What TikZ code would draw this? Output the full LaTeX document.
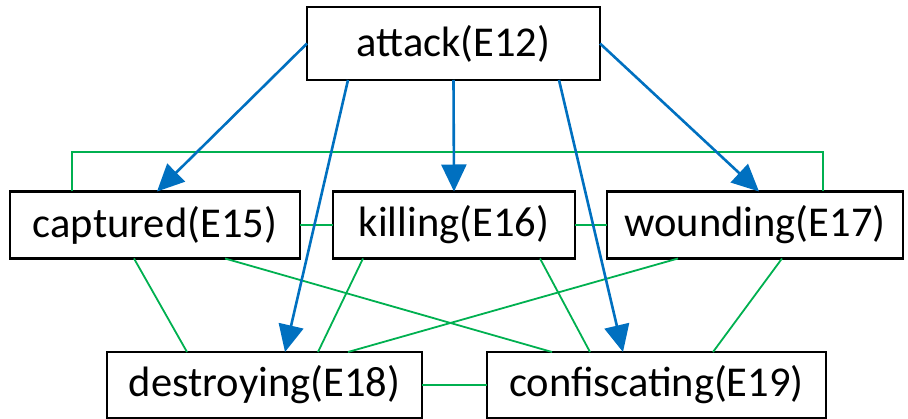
\documentclass[tikz,border=0pt]{standalone}
\usepackage{fontspec}
\setmainfont{Carlito}
\usetikzlibrary{arrows.meta,calc}
\definecolor{linkblue}{HTML}{0070C0}
\definecolor{linkgreen}{HTML}{00B050}
\tikzset{
  evbox/.style={draw=black, line width=2.6pt, fill=white, inner sep=0pt, outer sep=0pt,
    minimum height=67pt, font=\fontsize{42.5}{50}\selectfont},
  cause/.style={draw=linkblue, line width=2.6pt, -{Triangle[length=27pt,width=25pt]}},
  rel/.style={draw=linkgreen, line width=1.8pt}
}
\begin{document}
\begin{tikzpicture}[x=1pt,y=-1pt]
\useasboundingbox (0,0) rectangle (908,419);

% events
\node[evbox, minimum width=293pt, minimum height=73pt] (attack) at (453.5,43.5) {attack(E12)};
\node[evbox, minimum width=290pt] (captured) at (155,225) {captured(E15)};
\node[evbox, minimum width=242pt] (killing) at (454,225) {killing(E16)};
\node[evbox, minimum width=296pt] (wounding) at (755,225) {wounding(E17)};
\node[evbox, minimum width=315pt, minimum height=66pt] (destroying) at (264.5,385) {destroying(E18)};
\node[evbox, minimum width=339pt, minimum height=66pt] (confiscating) at (656.5,385) {confiscating(E19)};

% relations between sub-events
\draw[rel] (captured.east) -- (killing.west);
\draw[rel] (killing.east) -- (wounding.west);
\draw[rel] (destroying.east) -- (confiscating.west);
\draw[rel] ([xshift=-83pt]captured.north) -- ++(0,-39.5) -| ([xshift=68pt]wounding.north);
\draw[rel] ([xshift=-21pt]captured.south) -- ([xshift=-77.5pt]destroying.north);
\draw[rel] ([xshift=70pt]captured.south) -- ([xshift=-104.5pt]confiscating.north);
\draw[rel] ([xshift=-91pt]killing.south) -- ([xshift=53.5pt]destroying.north);
\draw[rel] ([xshift=86pt]killing.south) -- ([xshift=-66.5pt]confiscating.north);
\draw[rel] ([xshift=-77pt]wounding.south) -- ([xshift=83.5pt]destroying.north);
\draw[rel] ([xshift=27pt]wounding.south) -- ([xshift=56.5pt]confiscating.north);

% causal links from the attack
\draw[cause] (attack.west) -- ([xshift=2pt]captured.north);
\draw[cause] (attack.south) -- (killing.north);
\draw[cause] (attack.east) -- ([xshift=4pt]wounding.north);
\draw[cause] ([xshift=-105.5pt]attack.south) -- ([xshift=20.5pt]destroying.north);
\draw[cause] ([xshift=105.5pt]attack.south) -- ([xshift=-33.5pt]confiscating.north);
\end{tikzpicture}
\end{document}
